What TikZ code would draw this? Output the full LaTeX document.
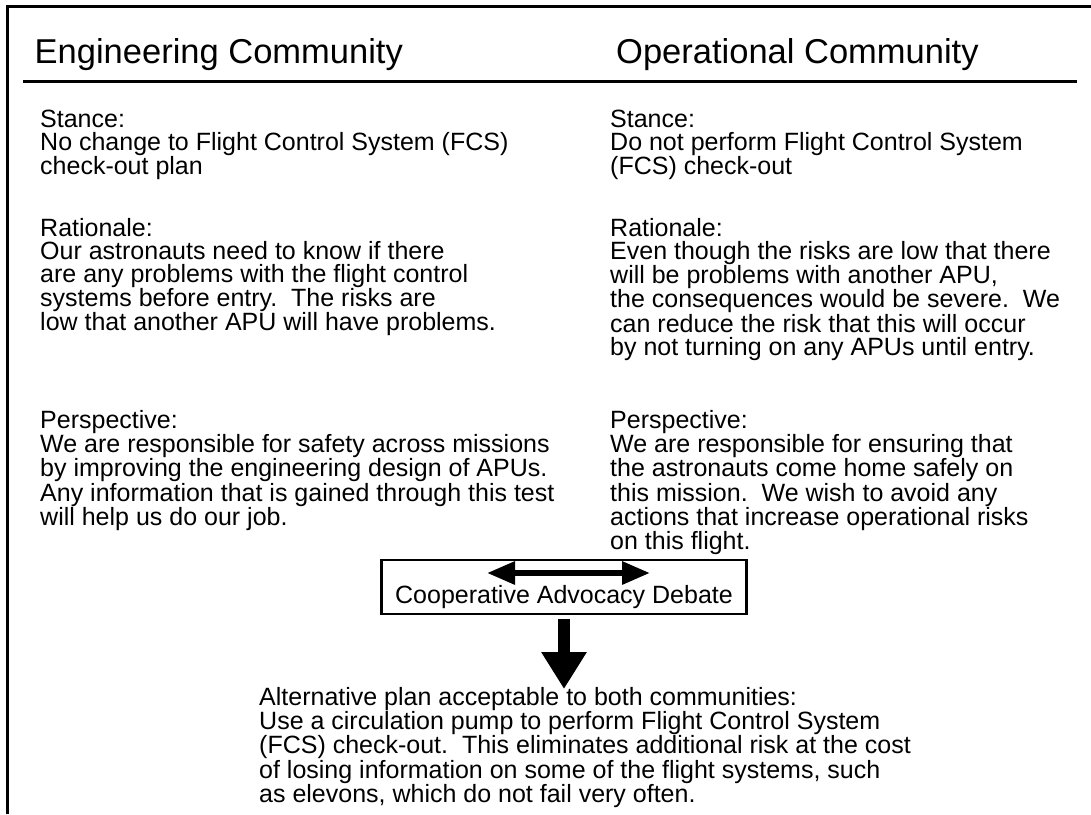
\documentclass[tikz,border=0pt]{standalone}
\usepackage{fontspec}
\setmainfont{Liberation Sans}
\usetikzlibrary{arrows.meta}
\newcommand\blkTop{\rule{0pt}{0.8em}}
\tikzset{
  body/.style={anchor=north west, inner sep=0pt, align=left, font=\fontsize{25}{23}\selectfont},
  head/.style={anchor=base west, inner sep=0pt, font=\fontsize{34.5}{40}\selectfont},
  rule/.style={line width=3pt},
  debatebox/.style={draw, line width=2.6pt, minimum width=365pt, inner xsep=4pt, inner ysep=5pt,
    text height=38pt, text depth=6pt, font=\fontsize{25}{23}\selectfont},
  dblarrow/.style={line width=6pt, {Triangle[length=28pt,width=22pt]}-{Triangle[length=28pt,width=22pt]}},
  downarrow/.style={line width=12pt, -{Triangle[length=37pt,width=43pt]}}
}
\begin{document}
\begin{tikzpicture}[x=1pt,y=-1pt]
\useasboundingbox (0,0) rectangle (1091,814);
% frame
\draw[rule] (7.5,814) -- (7.5,6.5) -- (1091,6.5);
% headings
\node[head] (engHead) at (34.5,63) {Engineering Community};
\node[head] (opHead) at (616,63) {Operational Community};
\draw[rule] (23,81.5) -- (1077,81.5);
% left column
\node[body] (engStance) at (40,107) {\blkTop Stance:\\No change to Flight Control System (FCS)\\check-out plan};
\node[body] (engRat) at (40,216) {\blkTop Rationale:\\Our astronauts need to know if there\\are any problems with the flight control\\systems before entry.\ \ The risks are\\low that another APU will have problems.};
\node[body] (engPersp) at (40,408) {\blkTop Perspective:\\We are responsible for safety across missions\\by improving the engineering design of APUs.\\Any information that is gained through this test\\will help us do our job.};
% right column
\node[body] (opStance) at (610,107) {\blkTop Stance:\\Do not perform Flight Control System\\(FCS) check-out};
\node[body] (opRat) at (610,216) {\blkTop Rationale:\\Even though the risks are low that there\\will be problems with another APU,\\the consequences would be severe.\ \ We\\can reduce the risk that this will occur\\by not turning on any APUs until entry.};
\node[body] (opPersp) at (610,408) {\blkTop Perspective:\\We are responsible for ensuring that\\the astronauts come home safely on\\this mission.\ \ We wish to avoid any\\actions that increase operational risks\\on this flight.};
% debate box
\node[debatebox] (debate) at (564,587) {Cooperative Advocacy Debate};
\coordinate (dl) at (487,573);
\coordinate (dr) at (650,573);
\draw[dblarrow] (dl) -- (dr);
% result
\node[body] (alt) at (259,685) {\blkTop Alternative plan acceptable to both communities:\\Use a circulation pump to perform Flight Control System\\(FCS) check-out.\ \ This eliminates additional risk at the cost\\of losing information on some of the flight systems, such\\as elevons, which do not fail very often.};
\coordinate (tip) at (564,689);
\draw[downarrow] ([yshift=-4pt]debate.south) -- (tip);
\end{tikzpicture}
\end{document}
